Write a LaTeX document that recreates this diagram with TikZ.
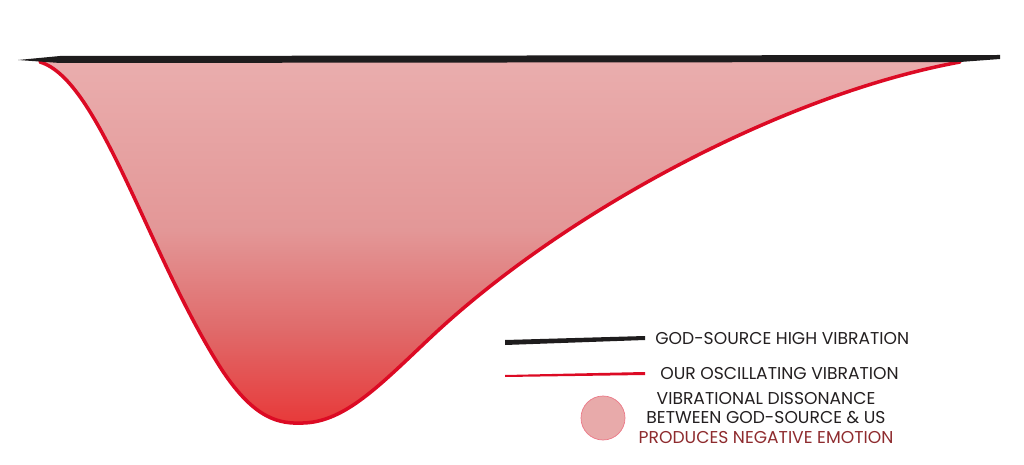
\documentclass[tikz,border=0pt]{standalone}
\usepackage{fontspec}
\setmainfont{Poppins}
\usetikzlibrary{positioning}
\definecolor{sourceblack}{HTML}{1E1C1D}
\definecolor{oscred}{HTML}{DC0A24}
\definecolor{pinktop}{HTML}{EAAEAE}
\definecolor{pinkmid}{HTML}{E39797}
\definecolor{pinklow}{HTML}{E06A6A}
\definecolor{redbottom}{HTML}{E83636}
\definecolor{legendpink}{HTML}{E8AAAA}
\definecolor{textgray}{HTML}{231F20}
\definecolor{emotionred}{HTML}{8E2B2E}
\tikzset{
  legendtext/.style={font=\fontsize{12.2}{14.2}\selectfont, text=textgray, inner sep=0pt, anchor=west},
}
\newcommand{\dissonancepath}{(40,62) .. controls (100,80) and (148,255) .. (222,370)
      .. controls (255,420) and (280,424) .. (303,423)
      .. controls (345,422) and (380,385) .. (430,338)
      .. controls (560,215) and (780,95) .. (960,62)}
\begin{document}
\begin{tikzpicture}[x=0.025cm, y=-0.025cm]
    \useasboundingbox (0,0) rectangle (1024,465);

    % --- 1. 画不协调区 (Dissonance) ---
    % 用渐变填充, 上浅下深
    \begin{scope}
      \clip \dissonancepath -- cycle;
      \shade[top color=pinktop, bottom color=pinkmid] (0,55) rectangle (1024,231);
      \shade[top color=pinkmid, bottom color=pinklow] (0,230) rectangle (1024,331);
      \shade[top color=pinklow, bottom color=redbottom] (0,330) rectangle (1024,430);
    \end{scope}

    % --- 2. 画红色曲线 (Our Vibration) ---
    \draw[oscred, line width=2.5pt, line cap=round] \dissonancepath;

    % --- 3. 画黑色直线 (God-Source) ---
    \fill[sourceblack] (18,60) -- (60,56) -- (1000,55) -- (1000,59) -- (960,62) -- (60,63) -- cycle;

    % --- 4. 图例 (Legend) ---
    \fill[sourceblack] (505,340) -- (645,336) -- (645,340) -- (505,345) -- cycle;
    \node[legendtext] (high) at (655,339) {GOD-SOURCE HIGH VIBRATION};

    \fill[oscred] (505,375) -- (645,372) -- (645,375) -- (505,377) -- cycle;
    \node[legendtext] (osc) at (660,374) {OUR OSCILLATING VIBRATION};

    \node[circle, fill=legendpink, draw=oscred!55, line width=0.5pt, minimum size=44*0.025cm, inner sep=0pt] (dot) at (603,418) {};
    \node[legendtext, anchor=center, align=center] (diss) at (766,418)
      {VIBRATIONAL DISSONANCE\\BETWEEN GOD-SOURCE \& US\\{\color{emotionred}PRODUCES NEGATIVE EMOTION}};

\end{tikzpicture}
\end{document}
